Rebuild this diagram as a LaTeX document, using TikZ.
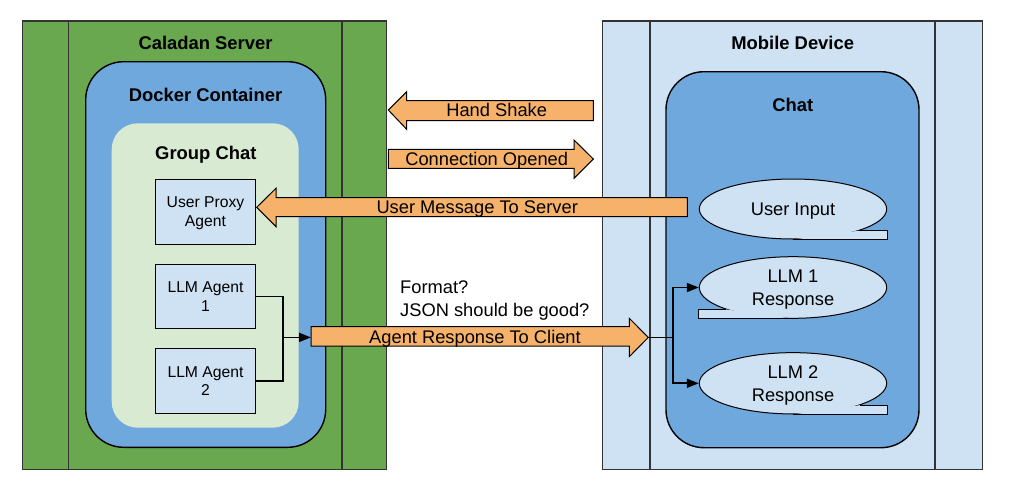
\documentclass[tikz,border=0pt]{standalone}
\usepackage{fontspec}
\setmainfont{Liberation Sans}
\usetikzlibrary{arrows.meta,positioning,shapes.geometric}
\definecolor{servergreen}{HTML}{6AA84F}
\definecolor{dockerblue}{HTML}{6FA8DC}
\definecolor{groupgreen}{HTML}{D9EAD3}
\definecolor{paleblue}{HTML}{CFE2F3}
\definecolor{msgorange}{HTML}{F6B26B}
\begin{document}
\begin{tikzpicture}[x=1pt,y=-1pt,>={Triangle[length=12pt,width=9pt]},
    frame/.style={draw=black!80,line width=1.3pt,minimum width=364pt,minimum height=448.3pt},
    frameline/.style={draw=black!80,line width=1.3pt},
    container/.style={draw,line width=1.4pt,rounded corners=38pt},
    title/.style={font=\fontsize{18.4pt}{22pt}\selectfont\bfseries,inner sep=0pt,text height=13.2pt,text depth=0pt},
    agent/.style={draw,line width=1.1pt,fill=paleblue,minimum width=100.4pt,minimum height=64.5pt,
                  align=center,text depth=0pt,font=\fontsize{15.7pt}{18.7pt}\selectfont},
    bubble/.style={ellipse,draw,line width=1pt,fill=paleblue,minimum width=187.4pt,inner sep=0pt,
                   align=center,text depth=0pt,font=\fontsize{18.3pt}{22.7pt}\selectfont},
    tail/.style={line width=1pt},
    blockarrow/.style={draw,line width=1pt,fill=msgorange},
    msg/.style={font=\fontsize{18.3pt}{22.4pt}\selectfont,inner sep=0pt,text height=13.1pt,text depth=0pt},
    wire/.style={line width=1.8pt}]

  \useasboundingbox (0,0) rectangle (1013,493);

  % server side
  \node[frame,fill=servergreen] (server) at (204.7,245.2) {};
  \draw[frameline] ([xshift=46.6pt]server.north west) -- ([xshift=46.6pt]server.south west);
  \draw[frameline] ([xshift=-45.4pt]server.north east) -- ([xshift=-45.4pt]server.south east);
  \node[title] (servertitle) at (205.5,42.7) {Caladan Server};
  \node[container,fill=dockerblue,minimum width=240pt,minimum height=385.6pt] (docker) at (205.7,254.5) {};
  \node[title] (dockertitle) at (205.5,95) {Docker Container};
  \node[fill=groupgreen,rounded corners=26pt,minimum width=187pt,minimum height=304.4pt] (group) at (205.2,275.5) {};
  \node[title] (grouptitle) at (205.8,152.7) {Group Chat};
  \node[agent] (proxy) at (205.5,211.8) {User Proxy\\Agent};
  \node[agent,below=19pt of proxy] (llm1) {LLM Agent\\1};
  \node[agent,below=19pt of llm1] (llm2) {LLM Agent\\2};

  % mobile side
  \node[frame,fill=paleblue,minimum width=380pt] (mobile) at (792.7,245.2) {};
  \draw[frameline] ([xshift=48pt]mobile.north west) -- ([xshift=48pt]mobile.south west);
  \draw[frameline] ([xshift=-48.4pt]mobile.north east) -- ([xshift=-48.4pt]mobile.south east);
  \node[title] (mobiletitle) at (792.7,42.7) {Mobile Device};
  \node[container,fill=dockerblue,minimum width=253pt,minimum height=376pt] (chat) at (792.5,259.7) {};
  \node[title] (chattitle) at (792.7,105) {Chat};

  % messages
  \draw[blockarrow] (593.3,100.7) -- (406.7,100.7) -- (406.7,91.7) -- (388.3,110) -- (406.7,129.3)
    -- (406.7,120.7) -- (593.3,120.7) -- cycle;
  \node[msg] (handshake) at (496.7,110) {Hand Shake};
  \draw[blockarrow] (388.3,149.3) -- (574,149.3) -- (574,140) -- (593.3,159) -- (574,178.3)
    -- (574,168.3) -- (388.3,168.3) -- cycle;
  \node[msg] (opened) at (486.7,159) {Connection Opened};
  \draw[blockarrow] (687.3,197.7) -- (276,197.7) -- (276,188.3) -- (256.7,207.3) -- (276,226.7)
    -- (276,216.7) -- (687.3,216.7) -- cycle;
  \node[msg] (usermsg) at (477.2,207.3) {User Message To Server};
  \draw[blockarrow] (311,326.7) -- (629.3,326.7) -- (629.3,318.3) -- (648.3,337.4) -- (629.3,356.7)
    -- (629.3,346) -- (311,346) -- cycle;
  \node[msg] (agentresp) at (475,337) {Agent Response To Client};
  \node[font=\fontsize{18.3pt}{22.4pt}\selectfont,align=left,anchor=west,inner sep=0pt] (format) at (400,300.5)
    {Format?\\JSON should be good?};

  % bubbles
  \node[bubble,minimum height=60pt] (input) at (793,209) {User Input};
  \fill[paleblue] (input.342) -- (input.342 -| input.east) -- (input.east |- input.south) -- (input.south) -- cycle;
  \draw[tail] (input.342) -- (input.342 -| input.east) -- (input.east |- input.south) -- (input.south);
  \node[bubble,minimum height=61.6pt] (resp1) at (793,287.5) {LLM 1\\Response};
  \fill[paleblue] (resp1.198) -- (resp1.198 -| resp1.west) -- (resp1.west |- resp1.south) -- (resp1.south) -- cycle;
  \draw[tail] (resp1.198) -- (resp1.198 -| resp1.west) -- (resp1.west |- resp1.south) -- (resp1.south);
  \node[bubble,minimum height=61.3pt] (resp2) at (793,383.3) {LLM 2\\Response};
  \fill[paleblue] (resp2.342) -- (resp2.342 -| resp2.east) -- (resp2.east |- resp2.south) -- (resp2.south) -- cycle;
  \draw[tail] (resp2.342) -- (resp2.342 -| resp2.east) -- (resp2.east |- resp2.south) -- (resp2.south);

  % wires
  \coordinate (merge) at (283.3,337.4);
  \coordinate (resptail) at (311,337.4);
  \coordinate (resptip) at (648.3,337.4);
  \coordinate (split) at (672.7,337.4);
  \draw[wire] (llm1.east) -| (merge);
  \draw[wire] (llm2.east) -| (merge);
  \draw[wire,->] (merge) -- (resptail);
  \draw[wire] (resptip) -- (split);
  \draw[wire,->] (split) |- (resp1.west);
  \draw[wire,->] (split) |- (resp2.west);
\end{tikzpicture}
\end{document}
